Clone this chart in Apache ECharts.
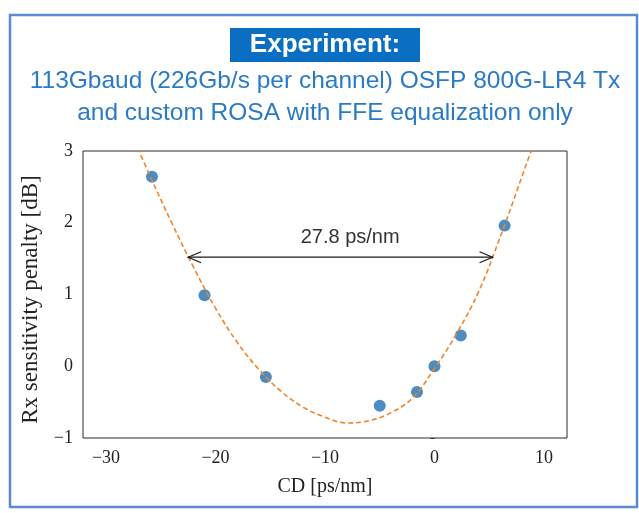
<!DOCTYPE html>
<html>
<head>
<meta charset="utf-8">
<script src="https://cdn.jsdelivr.net/npm/echarts@6/dist/echarts.min.js"></script>
<style>
  html, body { margin: 0; padding: 0; background: #ffffff; }
  #chart { width: 639px; height: 513px; }
</style>
</head>
<body>
<div id="chart"></div>
<script>
// Measured penalty points: CD [ps/nm] and Rx sensitivity penalty [dB]
const cdMeasured = [-25.8, -21.0, -15.4, -5.0, -1.6, 0.0, 2.4, 6.4];
const penaltyMeasured = [2.64, 0.99, -0.15, -0.55, -0.36, 0.0, 0.43, 1.96];

// Fitted penalty curve, sampled every 2 ps/nm
const cdFit = [-28, -26, -24, -22, -20, -18, -16, -14, -12, -10, -8, -6, -4, -2, 0, 2, 4, 6, 8, 10];
const penaltyFit = [3.35, 2.66, 2.0, 1.38, 0.81, 0.33, -0.05, -0.35, -0.57, -0.71, -0.79, -0.76, -0.65, -0.44, -0.03, 0.45, 1.03, 1.80, 2.65, 3.5];

// CD tolerance window at the 1.5 dB level
const windowStart = -22.5;
const windowWidth = 27.8;
const windowLevel = 1.52;
const windowLabel = '27.8 ps/nm';
const windowLabelAt = [-7.7, 1.79];

// Axis ranges and ticks
const cdRange = [-32.1, 12.1];
const cdTicks = [-30, -20, -10, 0, 10];
const penaltyRange = [-1, 3];

const heading = 'Experiment:';
const subheading = ['113Gbaud (226Gb/s per channel) OSFP 800G-LR4 Tx', 'and custom ROSA with FFE equalization only'];

const fitPoints = cdFit.map((x, i) => [x, penaltyFit[i]]);
const measuredPoints = cdMeasured.map((x, i) => [x, penaltyMeasured[i]]);
const minus = v => String(v).replace('-', '\u2212');

const serif = "'Liberation Serif', 'Times New Roman', serif";
const sans = "'Liberation Sans', Arial, sans-serif";

const chart = echarts.init(document.getElementById('chart'), null, { renderer: 'canvas' });

chart.setOption({
  backgroundColor: '#ffffff',
  animation: false,
  graphic: [
    {
      type: 'rect', z: 0,
      shape: { x: 10, y: 15, width: 627, height: 492 },
      style: { fill: '#ffffff', stroke: '#5a8bd0', lineWidth: 2.5 }
    },
    {
      type: 'rect', z: 1,
      shape: { x: 230, y: 28, width: 190, height: 34 },
      style: { fill: '#0a6fc2' }
    },
    {
      type: 'text', z: 2, x: 325, y: 45,
      style: { text: heading, fill: '#ffffff', font: 'bold 26px ' + sans, align: 'center', verticalAlign: 'middle' }
    },
    {
      type: 'text', z: 2, x: 325, y: 81,
      style: { text: subheading[0], fill: '#2a7bc6', font: '24.5px ' + sans, align: 'center', verticalAlign: 'middle' }
    },
    {
      type: 'text', z: 2, x: 325, y: 113,
      style: { text: subheading[1], fill: '#2a7bc6', font: '24.5px ' + sans, align: 'center', verticalAlign: 'middle' }
    }
  ],
  grid: {
    left: 83, top: 151, width: 484, height: 287,
    show: true, borderColor: '#2a2a2a', borderWidth: 1, backgroundColor: '#ffffff', z: 3
  },
  xAxis: {
    type: 'value',
    min: cdRange[0], max: cdRange[1],
    name: 'CD [ps/nm]', nameLocation: 'middle', nameGap: 39,
    nameTextStyle: { fontFamily: serif, fontSize: 20, color: '#222' },
    axisLine: { show: false },
    axisTick: { show: true, inside: false, length: 4, customValues: cdTicks, lineStyle: { color: '#2a2a2a', width: 1 } },
    axisLabel: { customValues: cdTicks, formatter: minus, fontFamily: serif, fontSize: 18, color: '#222', margin: 11 },
    splitLine: { show: false }
  },
  yAxis: {
    type: 'value',
    min: penaltyRange[0], max: penaltyRange[1], interval: 1,
    name: 'Rx sensitivity penalty [dB]', nameLocation: 'middle', nameGap: 41,
    nameTextStyle: { fontFamily: serif, fontSize: 23, color: '#222', padding: [0, 10, 0, 0] },
    axisLine: { show: false },
    axisTick: { show: true, inside: false, length: 4, lineStyle: { color: '#2a2a2a', width: 1 } },
    axisLabel: { formatter: minus, fontFamily: serif, fontSize: 18, color: '#222', margin: 10 },
    splitLine: { show: false }
  },
  series: [
    {
      type: 'scatter', z: 4,
      data: measuredPoints,
      symbol: 'circle', symbolSize: 12,
      itemStyle: { color: '#1f6fb0' }
    },
    {
      type: 'line', z: 5,
      data: fitPoints,
      smooth: 0.4,
      showSymbol: false, clip: true,
      lineStyle: { color: '#f08428', width: 1.6, type: [5, 3] }
    },
    {
      type: 'custom', z: 6,
      coordinateSystem: 'cartesian2d',
      data: [[windowStart, windowStart + windowWidth, windowLevel]],
      renderItem: function (params, api) {
        const a = api.coord([api.value(0), api.value(2)]);
        const b = api.coord([api.value(1), api.value(2)]);
        const t = api.coord(windowLabelAt);
        const stroke = { stroke: '#1a1a1a', lineWidth: 1.2, fill: null };
        return {
          type: 'group',
          children: [
            { type: 'line', shape: { x1: a[0], y1: a[1], x2: b[0], y2: b[1] }, style: stroke },
            { type: 'polyline', shape: { points: [[a[0] + 13, a[1] - 5.5], [a[0], a[1]], [a[0] + 13, a[1] + 5.5]] }, style: stroke },
            { type: 'polyline', shape: { points: [[b[0] - 13, b[1] - 5.5], [b[0], b[1]], [b[0] - 13, b[1] + 5.5]] }, style: stroke },
            { type: 'text', x: t[0], y: t[1], style: { text: windowLabel, fill: '#333333', font: '20px ' + sans, align: 'center', verticalAlign: 'middle' } }
          ]
        };
      }
    }
  ]
});
</script>
</body>
</html>
